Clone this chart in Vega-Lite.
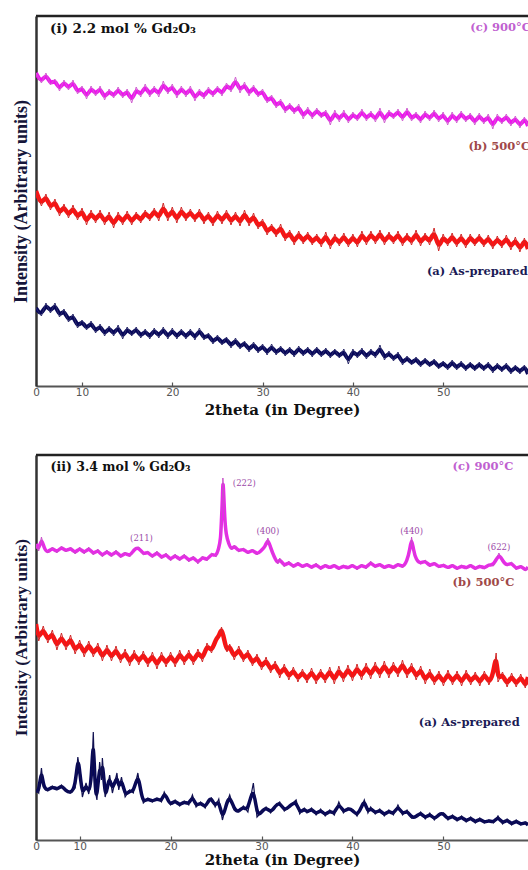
{
"$schema": "https://vega.github.io/schema/vega-lite/v6.json",
"padding": {"left": 12, "top": 14, "right": 0, "bottom": 0},
"spacing": 35,
"config": {
 "view": {"stroke": null},
 "axisX": {"grid": false, "domainColor": "#555", "domainWidth": 2, "tickColor": "#555", "tickSize": -4, "tickWidth": 1.2, "labelFont": "DejaVu Sans", "labelFontSize": 10.5, "labelColor": "#555", "labelPadding": 5, "labelFlush": false, "titleFont": "DejaVu Serif", "titleFontWeight": "bold", "titleFontSize": 15, "titleColor": "#111", "titlePadding": 5},
 "axisY": {"grid": false, "domainColor": "#333", "domainWidth": 2.5, "ticks": false, "labels": false, "titleFont": "Liberation Serif", "titleFontSize": 18, "titleFontWeight": "bold", "titleColor": "#16163a", "titlePadding": 6}
},
"datasets": {
 "top_c": [{"x":4.9,"y":313},{"x":5.5,"y":303},{"x":6,"y":313},{"x":6.5,"y":301},{"x":7,"y":307},{"x":7.5,"y":295},{"x":8,"y":306},{"x":8.5,"y":296},{"x":9,"y":306},{"x":9.5,"y":292},{"x":10,"y":300},{"x":10.5,"y":287},{"x":11,"y":300},{"x":11.5,"y":290},{"x":12,"y":300},{"x":12.5,"y":286},{"x":13,"y":297},{"x":13.5,"y":288},{"x":14,"y":299},{"x":14.5,"y":288},{"x":15,"y":297},{"x":15.5,"y":283},{"x":16,"y":299},{"x":16.5,"y":289},{"x":17,"y":302},{"x":17.5,"y":289},{"x":18,"y":300},{"x":18.5,"y":289},{"x":19,"y":305},{"x":19.5,"y":292},{"x":20,"y":302},{"x":20.5,"y":288},{"x":21,"y":300},{"x":21.5,"y":289},{"x":22,"y":300},{"x":22.5,"y":285},{"x":23,"y":297},{"x":23.5,"y":287},{"x":24,"y":299},{"x":24.5,"y":289},{"x":25,"y":300},{"x":25.5,"y":290},{"x":26,"y":303},{"x":26.5,"y":294},{"x":27,"y":309},{"x":27.5,"y":293},{"x":28,"y":304},{"x":28.5,"y":290},{"x":29,"y":301},{"x":29.5,"y":289},{"x":30,"y":297},{"x":30.5,"y":283},{"x":31,"y":291},{"x":31.5,"y":278},{"x":32,"y":287},{"x":32.5,"y":273},{"x":33,"y":283},{"x":33.5,"y":272},{"x":34,"y":282},{"x":34.5,"y":267},{"x":35,"y":279},{"x":35.5,"y":267},{"x":36,"y":278},{"x":36.5,"y":268},{"x":37,"y":276},{"x":37.5,"y":261},{"x":38,"y":276},{"x":38.5,"y":264},{"x":39,"y":276},{"x":39.5,"y":263},{"x":40,"y":274},{"x":40.5,"y":265},{"x":41,"y":277},{"x":41.5,"y":265},{"x":42,"y":275},{"x":42.5,"y":264},{"x":43,"y":278},{"x":43.5,"y":263},{"x":44,"y":276},{"x":44.5,"y":267},{"x":45,"y":277},{"x":45.5,"y":265},{"x":46,"y":278},{"x":46.5,"y":265},{"x":47,"y":274},{"x":47.5,"y":263},{"x":48,"y":275},{"x":48.5,"y":265},{"x":49,"y":276},{"x":49.5,"y":264},{"x":50,"y":274},{"x":50.5,"y":261},{"x":51,"y":274},{"x":51.5,"y":263},{"x":52,"y":275},{"x":52.5,"y":264},{"x":53,"y":273},{"x":53.5,"y":261},{"x":54,"y":273},{"x":54.5,"y":262},{"x":55,"y":272},{"x":55.5,"y":257},{"x":56,"y":272},{"x":56.5,"y":262},{"x":57,"y":272},{"x":57.5,"y":260},{"x":58,"y":270},{"x":58.5,"y":258},{"x":59,"y":269},{"x":59.4,"y":260}],
 "top_b": [{"x":4.9,"y":195},{"x":5.5,"y":180},{"x":6,"y":192},{"x":6.5,"y":176},{"x":7,"y":187},{"x":7.5,"y":170},{"x":8,"y":182},{"x":8.5,"y":168},{"x":9,"y":181},{"x":9.5,"y":166},{"x":10,"y":178},{"x":10.5,"y":161},{"x":11,"y":176},{"x":11.5,"y":163},{"x":12,"y":176},{"x":12.5,"y":161},{"x":13,"y":174},{"x":13.5,"y":158},{"x":14,"y":174},{"x":14.5,"y":161},{"x":15,"y":175},{"x":15.5,"y":161},{"x":16,"y":174},{"x":16.5,"y":163},{"x":17,"y":176},{"x":17.5,"y":165},{"x":18,"y":178},{"x":18.5,"y":165},{"x":19,"y":183},{"x":19.5,"y":165},{"x":20,"y":179},{"x":20.5,"y":163},{"x":21,"y":179},{"x":21.5,"y":165},{"x":22,"y":177},{"x":22.5,"y":164},{"x":23,"y":177},{"x":23.5,"y":162},{"x":24,"y":174},{"x":24.5,"y":160},{"x":25,"y":175},{"x":25.5,"y":162},{"x":26,"y":176},{"x":26.5,"y":161},{"x":27,"y":174},{"x":27.5,"y":160},{"x":28,"y":176},{"x":28.5,"y":160},{"x":29,"y":173},{"x":29.5,"y":157},{"x":30,"y":167},{"x":30.5,"y":151},{"x":31,"y":162},{"x":31.5,"y":149},{"x":32,"y":162},{"x":32.5,"y":145},{"x":33,"y":156},{"x":33.5,"y":141},{"x":34,"y":155},{"x":34.5,"y":142},{"x":35,"y":154},{"x":35.5,"y":141},{"x":36,"y":152},{"x":36.5,"y":139},{"x":37,"y":154},{"x":37.5,"y":137},{"x":38,"y":152},{"x":38.5,"y":140},{"x":39,"y":153},{"x":39.5,"y":139},{"x":40,"y":152},{"x":40.5,"y":139},{"x":41,"y":155},{"x":41.5,"y":141},{"x":42,"y":155},{"x":42.5,"y":142},{"x":43,"y":156},{"x":43.5,"y":141},{"x":44,"y":154},{"x":44.5,"y":142},{"x":45,"y":155},{"x":45.5,"y":140},{"x":46,"y":153},{"x":46.5,"y":141},{"x":47,"y":156},{"x":47.5,"y":140},{"x":48,"y":153},{"x":48.5,"y":141},{"x":49,"y":158},{"x":49.5,"y":135},{"x":50,"y":152},{"x":50.5,"y":140},{"x":51,"y":153},{"x":51.5,"y":139},{"x":52,"y":152},{"x":52.5,"y":138},{"x":53,"y":152},{"x":53.5,"y":140},{"x":54,"y":152},{"x":54.5,"y":139},{"x":55,"y":151},{"x":55.5,"y":137},{"x":56,"y":150},{"x":56.5,"y":138},{"x":57,"y":151},{"x":57.5,"y":136},{"x":58,"y":149},{"x":58.5,"y":134},{"x":59,"y":148},{"x":59.4,"y":137}],
 "top_a": [{"x":4.9,"y":78},{"x":5.5,"y":70},{"x":6,"y":83},{"x":6.5,"y":73},{"x":7,"y":83},{"x":7.5,"y":69},{"x":8,"y":77},{"x":8.5,"y":64},{"x":9,"y":72},{"x":9.5,"y":58},{"x":10,"y":66},{"x":10.5,"y":56},{"x":11,"y":65},{"x":11.5,"y":53},{"x":12,"y":62},{"x":12.5,"y":50},{"x":13,"y":60},{"x":13.5,"y":50},{"x":14,"y":61},{"x":14.5,"y":47},{"x":15,"y":59},{"x":15.5,"y":50},{"x":16,"y":59},{"x":16.5,"y":48},{"x":17,"y":57},{"x":17.5,"y":47},{"x":18,"y":58},{"x":18.5,"y":48},{"x":19,"y":59},{"x":19.5,"y":47},{"x":20,"y":58},{"x":20.5,"y":47},{"x":21,"y":57},{"x":21.5,"y":47},{"x":22,"y":57},{"x":22.5,"y":46},{"x":23,"y":58},{"x":23.5,"y":46},{"x":24,"y":53},{"x":24.5,"y":42},{"x":25,"y":51},{"x":25.5,"y":41},{"x":26,"y":49},{"x":26.5,"y":38},{"x":27,"y":48},{"x":27.5,"y":37},{"x":28,"y":45},{"x":28.5,"y":34},{"x":29,"y":44},{"x":29.5,"y":33},{"x":30,"y":42},{"x":30.5,"y":31},{"x":31,"y":42},{"x":31.5,"y":31},{"x":32,"y":40},{"x":32.5,"y":30},{"x":33,"y":39},{"x":33.5,"y":29},{"x":34,"y":40},{"x":34.5,"y":30},{"x":35,"y":39},{"x":35.5,"y":29},{"x":36,"y":39},{"x":36.5,"y":29},{"x":37,"y":38},{"x":37.5,"y":28},{"x":38,"y":37},{"x":38.5,"y":28},{"x":39,"y":37},{"x":39.5,"y":22},{"x":40,"y":37},{"x":40.5,"y":28},{"x":41,"y":38},{"x":41.5,"y":27},{"x":42,"y":37},{"x":42.5,"y":28},{"x":43,"y":41},{"x":43.5,"y":26},{"x":44,"y":35},{"x":44.5,"y":25},{"x":45,"y":34},{"x":45.5,"y":21},{"x":46,"y":30},{"x":46.5,"y":21},{"x":47,"y":29},{"x":47.5,"y":19},{"x":48,"y":28},{"x":48.5,"y":19},{"x":49,"y":27},{"x":49.5,"y":17},{"x":50,"y":25},{"x":50.5,"y":16},{"x":51,"y":26},{"x":51.5,"y":16},{"x":52,"y":25},{"x":52.5,"y":15},{"x":53,"y":24},{"x":53.5,"y":15},{"x":54,"y":24},{"x":54.5,"y":15},{"x":55,"y":24},{"x":55.5,"y":13},{"x":56,"y":23},{"x":56.5,"y":14},{"x":57,"y":23},{"x":57.5,"y":12},{"x":58,"y":21},{"x":58.5,"y":12},{"x":59,"y":21},{"x":59.4,"y":12}],
 "bot_c": [{"x":5.2,"y":296},{"x":5.5,"y":289},{"x":5.8,"y":303},{"x":6.1,"y":291},{"x":6.5,"y":287},{"x":7,"y":293},{"x":7.5,"y":287},{"x":8,"y":294},{"x":8.5,"y":288},{"x":9,"y":293},{"x":9.5,"y":286},{"x":10,"y":293},{"x":10.5,"y":286},{"x":11,"y":293},{"x":11.5,"y":285},{"x":12,"y":291},{"x":12.5,"y":283},{"x":13,"y":290},{"x":13.5,"y":283},{"x":14,"y":290},{"x":14.5,"y":282},{"x":15,"y":288},{"x":15.5,"y":283},{"x":16,"y":291},{"x":16.5,"y":293},{"x":17,"y":285},{"x":17.5,"y":289},{"x":18,"y":282},{"x":18.5,"y":289},{"x":19,"y":281},{"x":19.5,"y":287},{"x":20,"y":279},{"x":20.5,"y":286},{"x":21,"y":279},{"x":21.5,"y":286},{"x":22,"y":278},{"x":22.5,"y":284},{"x":23,"y":276},{"x":23.5,"y":284},{"x":24,"y":279},{"x":24.5,"y":287},{"x":25,"y":283},{"x":25.3,"y":292},{"x":25.5,"y":300},{"x":25.6,"y":322},{"x":25.7,"y":340},{"x":25.75,"y":362},{"x":25.85,"y":345},{"x":25.95,"y":322},{"x":26.1,"y":305},{"x":26.4,"y":296},{"x":26.7,"y":290},{"x":27,"y":295},{"x":27.5,"y":288},{"x":28,"y":292},{"x":28.5,"y":286},{"x":29,"y":291},{"x":29.5,"y":285},{"x":30,"y":290},{"x":30.4,"y":293},{"x":30.7,"y":302},{"x":31,"y":292},{"x":31.4,"y":283},{"x":31.8,"y":276},{"x":32,"y":282},{"x":32.5,"y":273},{"x":33,"y":279},{"x":33.5,"y":272},{"x":34,"y":278},{"x":34.5,"y":272},{"x":35,"y":277},{"x":35.5,"y":271},{"x":36,"y":277},{"x":36.5,"y":270},{"x":37,"y":276},{"x":37.5,"y":271},{"x":38,"y":276},{"x":38.5,"y":270},{"x":39,"y":275},{"x":39.5,"y":271},{"x":40,"y":276},{"x":40.5,"y":270},{"x":41,"y":276},{"x":41.5,"y":271},{"x":42,"y":279},{"x":42.5,"y":272},{"x":43,"y":277},{"x":43.5,"y":271},{"x":44,"y":276},{"x":44.5,"y":271},{"x":45,"y":277},{"x":45.5,"y":272},{"x":46,"y":279},{"x":46.3,"y":290},{"x":46.5,"y":303},{"x":46.7,"y":290},{"x":47,"y":280},{"x":47.5,"y":276},{"x":48,"y":280},{"x":48.5,"y":273},{"x":49,"y":278},{"x":49.5,"y":272},{"x":50,"y":276},{"x":50.5,"y":271},{"x":51,"y":276},{"x":51.5,"y":270},{"x":52,"y":275},{"x":52.5,"y":271},{"x":53,"y":276},{"x":53.5,"y":270},{"x":54,"y":275},{"x":54.5,"y":271},{"x":55,"y":276},{"x":55.5,"y":274},{"x":56.1,"y":287},{"x":56.5,"y":279},{"x":57,"y":274},{"x":57.5,"y":278},{"x":58,"y":270},{"x":58.5,"y":275},{"x":59,"y":269},{"x":59.3,"y":273}],
 "bot_b": [{"x":5.2,"y":216},{"x":5.5,"y":199},{"x":6,"y":214},{"x":6.5,"y":197},{"x":7,"y":210},{"x":7.5,"y":190},{"x":8,"y":207},{"x":8.5,"y":190},{"x":9,"y":205},{"x":9.5,"y":186},{"x":10,"y":200},{"x":10.5,"y":183},{"x":11,"y":199},{"x":11.5,"y":183},{"x":12,"y":197},{"x":12.5,"y":179},{"x":13,"y":195},{"x":13.5,"y":179},{"x":14,"y":194},{"x":14.5,"y":177},{"x":15,"y":191},{"x":15.5,"y":174},{"x":16,"y":190},{"x":16.5,"y":175},{"x":17,"y":189},{"x":17.5,"y":173},{"x":18,"y":188},{"x":18.5,"y":171},{"x":19,"y":188},{"x":19.5,"y":173},{"x":20,"y":188},{"x":20.5,"y":173},{"x":21,"y":190},{"x":21.5,"y":175},{"x":22,"y":190},{"x":22.5,"y":175},{"x":23,"y":191},{"x":23.5,"y":178},{"x":24,"y":197},{"x":24.5,"y":187},{"x":25,"y":202},{"x":25.3,"y":203},{"x":25.6,"y":213},{"x":25.9,"y":200},{"x":26.2,"y":188},{"x":26.5,"y":196},{"x":27,"y":180},{"x":27.5,"y":194},{"x":28,"y":178},{"x":28.5,"y":190},{"x":29,"y":174},{"x":29.5,"y":186},{"x":30,"y":170},{"x":30.5,"y":183},{"x":31,"y":167},{"x":31.5,"y":179},{"x":32,"y":162},{"x":32.5,"y":176},{"x":33,"y":160},{"x":33.5,"y":173},{"x":34,"y":158},{"x":34.5,"y":171},{"x":35,"y":157},{"x":35.5,"y":172},{"x":36,"y":156},{"x":36.5,"y":171},{"x":37,"y":157},{"x":37.5,"y":173},{"x":38,"y":156},{"x":38.5,"y":174},{"x":39,"y":158},{"x":39.5,"y":175},{"x":40,"y":159},{"x":40.5,"y":176},{"x":41,"y":160},{"x":41.5,"y":177},{"x":42,"y":161},{"x":42.5,"y":178},{"x":43,"y":162},{"x":43.5,"y":179},{"x":44,"y":162},{"x":44.5,"y":178},{"x":45,"y":163},{"x":45.5,"y":180},{"x":46,"y":162},{"x":46.5,"y":177},{"x":47,"y":160},{"x":47.5,"y":174},{"x":48,"y":156},{"x":48.5,"y":171},{"x":49,"y":155},{"x":49.5,"y":169},{"x":50,"y":154},{"x":50.5,"y":170},{"x":51,"y":155},{"x":51.5,"y":169},{"x":52,"y":154},{"x":52.5,"y":170},{"x":53,"y":155},{"x":53.5,"y":168},{"x":54,"y":154},{"x":54.5,"y":169},{"x":55,"y":155},{"x":55.5,"y":167},{"x":55.8,"y":187},{"x":56,"y":158},{"x":56.5,"y":168},{"x":57,"y":153},{"x":57.5,"y":167},{"x":58,"y":153},{"x":58.5,"y":166},{"x":59,"y":152},{"x":59.3,"y":163}],
 "bot_a": [{"x":5.2,"y":50},{"x":5.5,"y":47},{"x":5.8,"y":72},{"x":6,"y":53},{"x":6.5,"y":49},{"x":7,"y":54},{"x":7.5,"y":50},{"x":8,"y":55},{"x":8.5,"y":49},{"x":9,"y":47},{"x":9.5,"y":52},{"x":9.8,"y":83},{"x":10,"y":70},{"x":10.3,"y":43},{"x":10.7,"y":57},{"x":11,"y":46},{"x":11.3,"y":60},{"x":11.5,"y":108},{"x":11.7,"y":50},{"x":11.9,"y":40},{"x":12.2,"y":78},{"x":12.4,"y":60},{"x":12.5,"y":82},{"x":12.8,"y":43},{"x":13,"y":50},{"x":13.3,"y":65},{"x":13.6,"y":47},{"x":14.1,"y":67},{"x":14.3,"y":50},{"x":14.6,"y":63},{"x":15,"y":43},{"x":15.5,"y":50},{"x":15.9,"y":47},{"x":16.4,"y":67},{"x":16.7,"y":50},{"x":17,"y":37},{"x":17.5,"y":42},{"x":18,"y":38},{"x":18.5,"y":42},{"x":19,"y":38},{"x":19.3,"y":48},{"x":19.7,"y":40},{"x":20,"y":35},{"x":20.5,"y":40},{"x":21,"y":34},{"x":21.5,"y":39},{"x":22,"y":35},{"x":22.4,"y":45},{"x":22.8,"y":33},{"x":23.3,"y":38},{"x":23.8,"y":32},{"x":24.2,"y":40},{"x":24.5,"y":42},{"x":24.9,"y":33},{"x":25.3,"y":41},{"x":25.7,"y":20},{"x":26.1,"y":35},{"x":26.5,"y":45},{"x":27,"y":30},{"x":27.5,"y":28},{"x":28,"y":34},{"x":28.5,"y":28},{"x":29.1,"y":57},{"x":29.5,"y":23},{"x":30,"y":28},{"x":30.5,"y":33},{"x":31,"y":27},{"x":31.5,"y":34},{"x":32,"y":38},{"x":32.5,"y":29},{"x":33,"y":33},{"x":33.8,"y":40},{"x":34.2,"y":26},{"x":34.7,"y":32},{"x":35,"y":27},{"x":35.5,"y":32},{"x":36,"y":25},{"x":36.5,"y":31},{"x":37,"y":24},{"x":37.5,"y":30},{"x":38,"y":25},{"x":38.5,"y":38},{"x":39,"y":27},{"x":39.5,"y":32},{"x":40,"y":30},{"x":40.5,"y":24},{"x":41,"y":33},{"x":41.3,"y":40},{"x":41.7,"y":27},{"x":42,"y":33},{"x":42.5,"y":26},{"x":43,"y":31},{"x":43.5,"y":24},{"x":44,"y":30},{"x":44.5,"y":25},{"x":45,"y":35},{"x":45.5,"y":25},{"x":46,"y":30},{"x":46.5,"y":22},{"x":47,"y":23},{"x":47.5,"y":28},{"x":48,"y":21},{"x":48.5,"y":27},{"x":49,"y":20},{"x":49.5,"y":26},{"x":50,"y":27},{"x":50.5,"y":20},{"x":51,"y":25},{"x":51.5,"y":19},{"x":52,"y":24},{"x":52.5,"y":18},{"x":53,"y":23},{"x":53.5,"y":17},{"x":54,"y":22},{"x":54.5,"y":17},{"x":55,"y":20},{"x":55.5,"y":17},{"x":56,"y":24},{"x":56.5,"y":16},{"x":57,"y":21},{"x":57.5,"y":15},{"x":58,"y":20},{"x":58.5,"y":15},{"x":59,"y":18},{"x":59.3,"y":15}]
},
"vconcat": [
 {
  "width": 492, "height": 370,
  "layer": [
   {"data": {"name": "top_c"}, "mark": {"type": "line", "color": "#f010f0", "strokeWidth": 4, "interpolate": "basis", "clip": true},
    "encoding": {
     "x": {"field": "x", "type": "quantitative", "scale": {"domain": [4.9, 59.4], "nice": false, "zero": false},
           "axis": {"values": [4.9, 10, 20, 30, 40, 50], "labelExpr": "datum.value < 6 ? '0' : datum.label", "title": "2theta (in Degree)"}},
     "y": {"field": "y", "type": "quantitative", "scale": {"domain": [0, 370], "nice": false}, "axis": {"title": "Intensity (Arbitrary units)"}}
    }},
   {"data": {"name": "top_c"}, "mark": {"type": "line", "color": "#d060d0", "strokeWidth": 1, "clip": true},
    "encoding": {"x": {"field": "x", "type": "quantitative"}, "y": {"field": "y", "type": "quantitative"}}},
   {"data": {"name": "top_b"}, "mark": {"type": "line", "color": "#ff1010", "strokeWidth": 4.5, "interpolate": "basis", "clip": true},
    "encoding": {"x": {"field": "x", "type": "quantitative"}, "y": {"field": "y", "type": "quantitative"}}},
   {"data": {"name": "top_b"}, "mark": {"type": "line", "color": "#d02828", "strokeWidth": 1, "clip": true},
    "encoding": {"x": {"field": "x", "type": "quantitative"}, "y": {"field": "y", "type": "quantitative"}}},
   {"data": {"name": "top_a"}, "mark": {"type": "line", "color": "#06065a", "strokeWidth": 4, "interpolate": "basis", "clip": true},
    "encoding": {"x": {"field": "x", "type": "quantitative"}, "y": {"field": "y", "type": "quantitative"}}},
   {"data": {"name": "top_a"}, "mark": {"type": "line", "color": "#2a2a6a", "strokeWidth": 1, "clip": true},
    "encoding": {"x": {"field": "x", "type": "quantitative"}, "y": {"field": "y", "type": "quantitative"}}},
   {"data": {"values": [{"y": 370}]}, "mark": {"type": "rule", "color": "#222", "strokeWidth": 2.5},
    "encoding": {"y": {"field": "y", "type": "quantitative"}}},
   {"data": {"values": [{"x": 6.45, "y": 357, "t": "(i) 2.2 mol % Gd₂O₃"}]},
    "mark": {"type": "text", "align": "left", "baseline": "middle", "font": "DejaVu Serif", "fontWeight": "bold", "fontSize": 13.5, "color": "#111", "clip": true},
    "encoding": {"x": {"field": "x", "type": "quantitative"}, "y": {"field": "y", "type": "quantitative"}, "text": {"field": "t"}}},
   {"data": {"values": [{"x": 53.0, "y": 358, "t": "(c) 900°C", "c": "c"}, {"x": 52.8, "y": 239, "t": "(b) 500°C", "c": "b"}, {"x": 48.2, "y": 114, "t": "(a) As-prepared", "c": "a"}]},
    "mark": {"type": "text", "align": "left", "baseline": "middle", "font": "DejaVu Serif", "fontWeight": "bold", "fontSize": 11.5, "clip": true},
    "encoding": {"x": {"field": "x", "type": "quantitative"}, "y": {"field": "y", "type": "quantitative"}, "text": {"field": "t"},
     "color": {"field": "c", "type": "nominal", "scale": {"domain": ["a", "b", "c"], "range": ["#1a1a55", "#a04848", "#c060d0"]}, "legend": null}}}
  ]
 },
 {
  "width": 492, "height": 385,
  "layer": [
   {"data": {"name": "bot_c"}, "mark": {"type": "line", "color": "#ee22ee", "strokeWidth": 3.5, "interpolate": "basis", "clip": true},
    "encoding": {
     "x": {"field": "x", "type": "quantitative", "scale": {"domain": [5.2, 59.3], "nice": false, "zero": false},
           "axis": {"values": [5.2, 10, 20, 30, 40, 50], "labelExpr": "datum.value < 6 ? '0' : datum.label", "title": "2theta (in Degree)", "titlePadding": 1, "labelPadding": 5}},
     "y": {"field": "y", "type": "quantitative", "scale": {"domain": [0, 385], "nice": false}, "axis": {"title": "Intensity (Arbitrary units)", "titleFontSize": 17.5, "titleY": 182}}
    }},
   {"data": {"name": "bot_c"}, "mark": {"type": "line", "color": "#c850c8", "strokeWidth": 1, "clip": true},
    "encoding": {"x": {"field": "x", "type": "quantitative"}, "y": {"field": "y", "type": "quantitative"}}},
   {"data": {"name": "bot_b"}, "mark": {"type": "line", "color": "#ff1010", "strokeWidth": 4.5, "interpolate": "basis", "clip": true},
    "encoding": {"x": {"field": "x", "type": "quantitative"}, "y": {"field": "y", "type": "quantitative"}}},
   {"data": {"name": "bot_b"}, "mark": {"type": "line", "color": "#d02828", "strokeWidth": 1, "clip": true},
    "encoding": {"x": {"field": "x", "type": "quantitative"}, "y": {"field": "y", "type": "quantitative"}}},
   {"data": {"name": "bot_a"}, "mark": {"type": "line", "color": "#06065a", "strokeWidth": 3.5, "interpolate": "basis", "clip": true},
    "encoding": {"x": {"field": "x", "type": "quantitative"}, "y": {"field": "y", "type": "quantitative"}}},
   {"data": {"name": "bot_a"}, "mark": {"type": "line", "color": "#101050", "strokeWidth": 1.2, "clip": true},
    "encoding": {"x": {"field": "x", "type": "quantitative"}, "y": {"field": "y", "type": "quantitative"}}},
   {"data": {"values": [{"y": 385}]}, "mark": {"type": "rule", "color": "#222", "strokeWidth": 2.5},
    "encoding": {"y": {"field": "y", "type": "quantitative"}}},
   {"data": {"values": [{"x": 6.8, "y": 373, "t": "(ii) 3.4 mol % Gd₂O₃"}]},
    "mark": {"type": "text", "align": "left", "baseline": "middle", "font": "DejaVu Serif", "fontWeight": "bold", "fontSize": 12.5, "color": "#111", "clip": true},
    "encoding": {"x": {"field": "x", "type": "quantitative"}, "y": {"field": "y", "type": "quantitative"}, "text": {"field": "t"}}},
   {"data": {"values": [{"x": 51.0, "y": 373, "t": "(c) 900°C", "c": "c"}, {"x": 51.0, "y": 257, "t": "(b) 500°C", "c": "b"}, {"x": 47.3, "y": 117, "t": "(a) As-prepared", "c": "a"}]},
    "mark": {"type": "text", "align": "left", "baseline": "middle", "font": "DejaVu Serif", "fontWeight": "bold", "fontSize": 11.5, "clip": true},
    "encoding": {"x": {"field": "x", "type": "quantitative"}, "y": {"field": "y", "type": "quantitative"}, "text": {"field": "t"},
     "color": {"field": "c", "type": "nominal", "scale": {"domain": ["a", "b", "c"], "range": ["#1a1a55", "#a04848", "#b050c0"]}, "legend": null}}},
   {"data": {"values": [{"x": 16.8, "y": 302, "t": "(211)"}, {"x": 28.1, "y": 357, "t": "(222)"}, {"x": 30.7, "y": 309, "t": "(400)"}, {"x": 46.5, "y": 309, "t": "(440)"}, {"x": 56.1, "y": 293, "t": "(622)"}]},
    "mark": {"type": "text", "align": "center", "baseline": "middle", "font": "DejaVu Serif", "fontSize": 8.5, "color": "#9c4aa8", "clip": true},
    "encoding": {"x": {"field": "x", "type": "quantitative"}, "y": {"field": "y", "type": "quantitative"}, "text": {"field": "t"}}}
  ]
 }
]
}
